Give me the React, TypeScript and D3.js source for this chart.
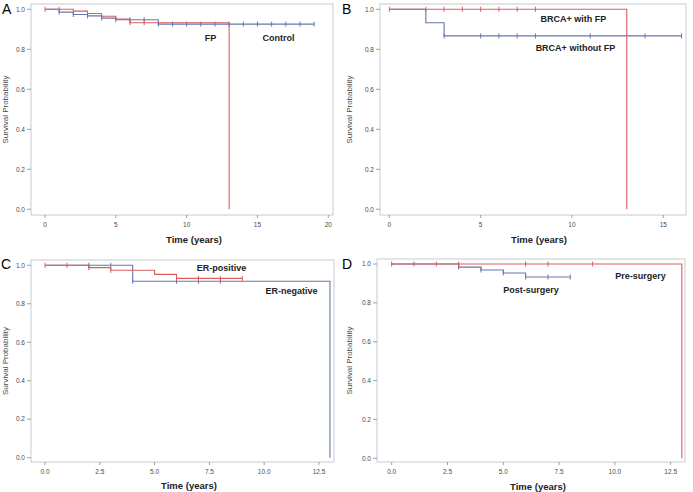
import React from "react";
import * as d3 from "d3";

// ---------- DATA ----------
const panelLetters = ["A", "B", "C", "D"];

// Panel A: FP vs Control
const aFpTimes = [0, 2, 3, 4, 5, 6, 13];
const aFpSurv = [1.0, 0.991, 0.979, 0.965, 0.951, 0.933, 0];
const aFpCensor = [0, 1, 6, 7];
const aCtrlTimes = [0, 1, 2, 3, 4, 5, 8, 19];
const aCtrlSurv = [1.0, 0.986, 0.974, 0.967, 0.956, 0.948, 0.926, 0.926];
const aCtrlCensor = [1, 2, 3, 4, 5, 6, 7, 8, 9, 10, 11, 12, 13, 14, 15, 16, 17, 18, 19];
const aLabels = ["FP", "Control"];
const aXTicks = [0, 5, 10, 15, 20];

// Panel B: BRCA+ with / without FP
const bWithTimes = [0, 13];
const bWithSurv = [1.0, 0];
const bWithCensor = [0, 2, 3, 4, 5, 6, 7, 8];
const bWithoutTimes = [0, 2, 3, 16];
const bWithoutSurv = [1.0, 0.933, 0.867, 0.867];
const bWithoutCensor = [3, 5, 6, 7, 8, 11, 14, 16];
const bLabels = ["BRCA+ with FP", "BRCA+ without FP"];
const bXTicks = [0, 5, 10, 15];

// Panel C: ER-positive / ER-negative
const cPosTimes = [0, 2, 3, 5, 6, 9];
const cPosSurv = [1.0, 0.988, 0.974, 0.953, 0.932, 0.932];
const cPosCensor = [0, 1, 2, 3, 6, 7, 8, 9];
const cNegTimes = [0, 4, 13];
const cNegSurv = [1.0, 0.917, 0];
const cNegCensor = [2, 3, 4, 6, 7, 8];
const cLabels = ["ER-positive", "ER-negative"];
const cXTicks = [0, 2.5, 5, 7.5, 10, 12.5];

// Panel D: Pre-surgery / Post-surgery
const dPreTimes = [0, 13];
const dPreSurv = [1.0, 0];
const dPreCensor = [2, 3, 6, 7, 9];
const dPostTimes = [0, 3, 4, 5, 6, 8];
const dPostSurv = [1.0, 0.984, 0.969, 0.954, 0.933, 0.933];
const dPostCensor = [0, 1, 3, 4, 5, 6, 7, 8];
const dLabels = ["Pre-surgery", "Post-surgery"];
const dXTicks = [0, 2.5, 5, 7.5, 10, 12.5];

const yTicks = [0, 0.2, 0.4, 0.6, 0.8, 1.0];
const xTitle = "Time (years)";
const yTitle = "Survival Probability";

// ---------- STYLE ----------
const RED = "#dd5c5c";
const BLUE = "#6677ad";
const FRAME = "#c6cbd2";
const TICK = "#8a8a8a";
const TXT = "#4a4a4a";
const FONT = "Arial, 'Liberation Sans', sans-serif";

type Series = { times: number[]; surv: number[]; censor: number[]; color: string };
type Layout = {
  frame: [number, number, number, number]; // x1, y1, x2, y2
  xr: [number, number]; // px for first/last tick
  yr: [number, number]; // px for y=0 and y=1
  letter: [number, number];
  yTitleX: number;
  xTitlePos: [number, number];
  labelPos: [number, number][];
  tickFmt: (v: number) => string;
};

function stepVal(times: number[], surv: number[], t: number) {
  let v = surv[0];
  for (let i = 0; i < times.length; i++) if (times[i] <= t) v = surv[i];
  return v;
}

function Panel({ letter, layout, series, labels, xTicks }: { letter: string; layout: Layout; series: Series[]; labels: string[]; xTicks: number[] }) {
  const [fx1, fy1, fx2, fy2] = layout.frame;
  const x = d3.scaleLinear().domain([xTicks[0], xTicks[xTicks.length - 1]]).range(layout.xr);
  const y = d3.scaleLinear().domain([0, 1]).range(layout.yr);
  const line = d3
    .line<[number, number]>()
    .x((d) => x(d[0]))
    .y((d) => y(d[1]))
    .curve(d3.curveStepAfter);
  const yMid = (fy1 + fy2) / 2;
  return (
    <g>
      <text x={layout.letter[0]} y={layout.letter[1]} fontSize={14} fontFamily={FONT} fill="#000">
        {letter}
      </text>
      <rect x={fx1} y={fy1} width={fx2 - fx1} height={fy2 - fy1} fill="none" stroke={FRAME} strokeWidth={1} />
      {yTicks.map((v) => (
        <g key={"y" + v}>
          <line x1={fx1 - 4} x2={fx1} y1={y(v)} y2={y(v)} stroke={TICK} strokeWidth={0.8} />
          <text x={fx1 - 6} y={y(v)} dy="0.35em" textAnchor="end" fontSize={6.5} fontFamily={FONT} fill={TXT}>
            {v.toFixed(1)}
          </text>
        </g>
      ))}
      {xTicks.map((v) => (
        <g key={"x" + v}>
          <line x1={x(v)} x2={x(v)} y1={fy2} y2={fy2 + 3} stroke={TICK} strokeWidth={0.8} />
          <text x={x(v)} y={fy2 + 12} textAnchor="middle" fontSize={6.5} fontFamily={FONT} fill={TXT}>
            {layout.tickFmt(v)}
          </text>
        </g>
      ))}
      <text
        transform={`translate(${layout.yTitleX},${yMid}) rotate(-90)`}
        textAnchor="middle"
        fontSize={8}
        fontFamily={FONT}
        fill={TXT}
      >
        {yTitle}
      </text>
      <text x={layout.xTitlePos[0]} y={layout.xTitlePos[1]} textAnchor="middle" fontSize={9.5} fontWeight="bold" fontFamily={FONT} fill="#222">
        {xTitle}
      </text>
      {series.map((s, i) => (
        <path
          key={"l" + i}
          d={line(s.times.map((t, j) => [t, s.surv[j]] as [number, number])) || ""}
          fill="none"
          stroke={s.color}
          strokeWidth={1.1}
        />
      ))}
      {series.map((s, i) =>
        s.censor.map((t) => {
          const v = stepVal(s.times, s.surv, t);
          return (
            <line
              key={"c" + i + "-" + t}
              x1={x(t)}
              x2={x(t)}
              y1={y(v) - 2.5}
              y2={y(v) + 2.5}
              stroke={s.color}
              strokeWidth={1}
            />
          );
        })
      )}
      {labels.map((lab, i) => (
        <text
          key={"lab" + i}
          x={layout.labelPos[i][0]}
          y={layout.labelPos[i][1]}
          dy="0.35em"
          textAnchor="middle"
          fontSize={9}
          fontWeight="bold"
          fontFamily={FONT}
          fill="#222"
        >
          {lab}
        </text>
      ))}
    </g>
  );
}

const intFmt = (v: number) => String(v);
const decFmt = (v: number) => v.toFixed(1);

const layoutA: Layout = {
  frame: [31, 4, 333, 215],
  xr: [45, 328.3],
  yr: [209.3, 9.3],
  letter: [2, 13.5],
  yTitleX: 8,
  xTitlePos: [194, 242.5],
  labelPos: [[210.5, 38], [278.5, 38]],
  tickFmt: intFmt,
};
const layoutB: Layout = {
  frame: [380, 4, 686, 215],
  xr: [389.3, 663.3],
  yr: [209.3, 9.3],
  letter: [342, 13.5],
  yTitleX: 352,
  xTitlePos: [539, 243],
  labelPos: [[573.5, 19], [575.5, 48]],
  tickFmt: intFmt,
};
const layoutC: Layout = {
  frame: [31, 260, 334, 462],
  xr: [45, 319],
  yr: [457.7, 265.3],
  letter: [1, 268.5],
  yTitleX: 8,
  xTitlePos: [189, 488.5],
  labelPos: [[221.5, 268], [291.5, 291]],
  tickFmt: decFmt,
};
const layoutD: Layout = {
  frame: [377, 259, 685, 462],
  xr: [391.7, 670.7],
  yr: [458.3, 264],
  letter: [342, 268.5],
  yTitleX: 352,
  xTitlePos: [538, 489.5],
  labelPos: [[640.5, 276], [531, 290]],
  tickFmt: decFmt,
};

export default function App() {
  return (
    <svg
      width={693}
      height={492}
      style={{ position: "fixed", left: 0, top: 0, background: "#fff" }}
    >
      <rect width={693} height={492} fill="#fff" />
      <Panel
        letter={panelLetters[0]}
        layout={layoutA}
        labels={aLabels}
        xTicks={aXTicks}
        series={[
          { times: aCtrlTimes, surv: aCtrlSurv, censor: aCtrlCensor, color: BLUE },
          { times: aFpTimes, surv: aFpSurv, censor: aFpCensor, color: RED },
        ]}
      />
      <Panel
        letter={panelLetters[1]}
        layout={layoutB}
        labels={bLabels}
        xTicks={bXTicks}
        series={[
          { times: bWithoutTimes, surv: bWithoutSurv, censor: bWithoutCensor, color: BLUE },
          { times: bWithTimes, surv: bWithSurv, censor: bWithCensor, color: RED },
        ]}
      />
      <Panel
        letter={panelLetters[2]}
        layout={layoutC}
        labels={cLabels}
        xTicks={cXTicks}
        series={[
          { times: cNegTimes, surv: cNegSurv, censor: cNegCensor, color: BLUE },
          { times: cPosTimes, surv: cPosSurv, censor: cPosCensor, color: RED },
        ]}
      />
      <Panel
        letter={panelLetters[3]}
        layout={layoutD}
        labels={dLabels}
        xTicks={dXTicks}
        series={[
          { times: dPostTimes, surv: dPostSurv, censor: dPostCensor, color: BLUE },
          { times: dPreTimes, surv: dPreSurv, censor: dPreCensor, color: RED },
        ]}
      />
    </svg>
  );
}
